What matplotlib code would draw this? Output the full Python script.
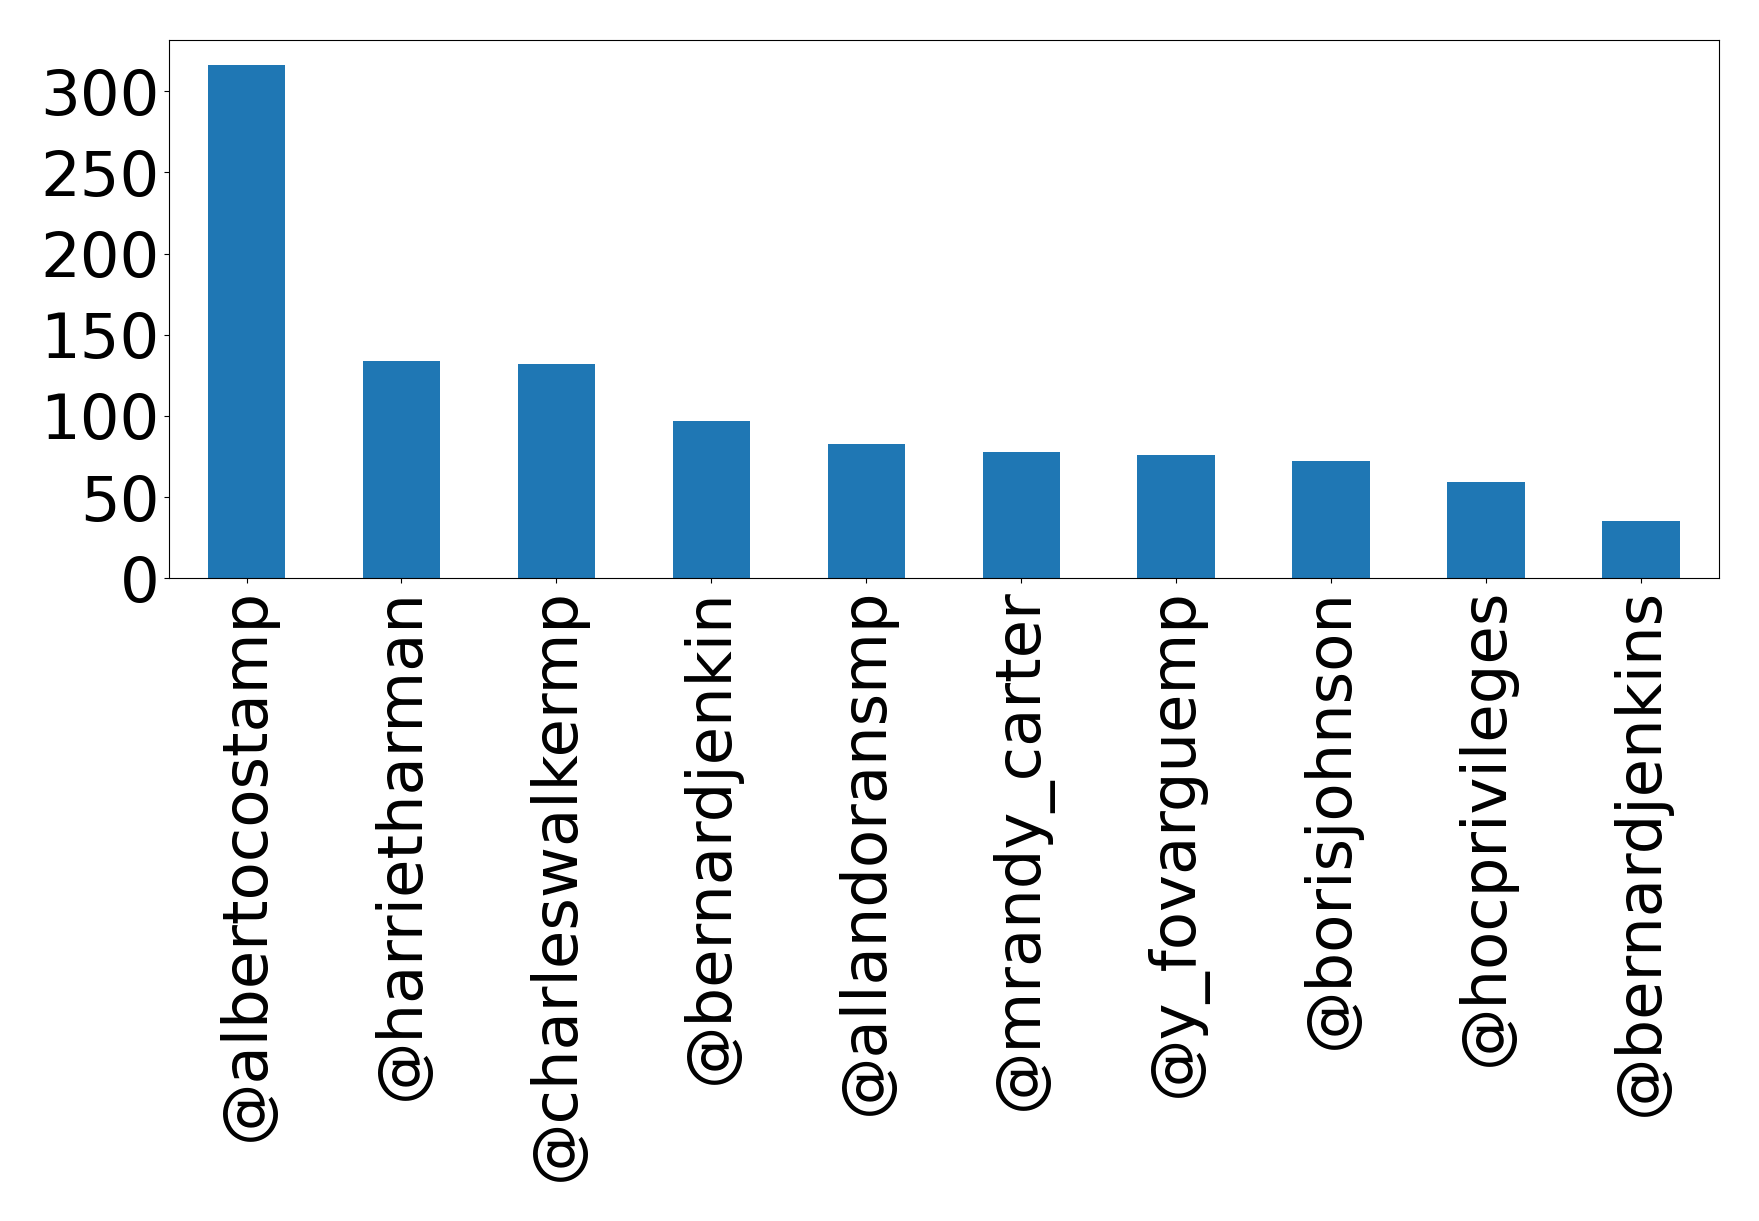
import matplotlib
matplotlib.use("Agg")
from matplotlib import pyplot as plt
from matplotlib.ticker import MultipleLocator
import numpy as np

handles = ["@albertocostamp", "@harrietharman", "@charleswalkermp", "@bernardjenkin",
           "@allandoransmp", "@mrandy_carter", "@y_fovarguemp", "@borisjohnson",
           "@hocprivileges", "@bernardjenkins"]
counts = [316, 134, 132, 97, 83, 78, 76, 72, 59, 35]

fig = plt.figure(figsize=(17.59, 12.21), dpi=100)
ax = fig.add_axes([0.0961, 0.5264, 0.977 - 0.0961, 0.9675 - 0.5264])

x = np.arange(len(handles))
ax.bar(x, counts, width=0.5, color="#1f77b4")
ax.set_xlim(-0.5, len(handles) - 0.5)
ax.set_xticks(x)
ax.set_xticklabels(handles, rotation=90)
ax.yaxis.set_major_locator(MultipleLocator(50))
ax.tick_params(axis="both", labelsize=45)

plt.savefig("out.png", dpi=100)
